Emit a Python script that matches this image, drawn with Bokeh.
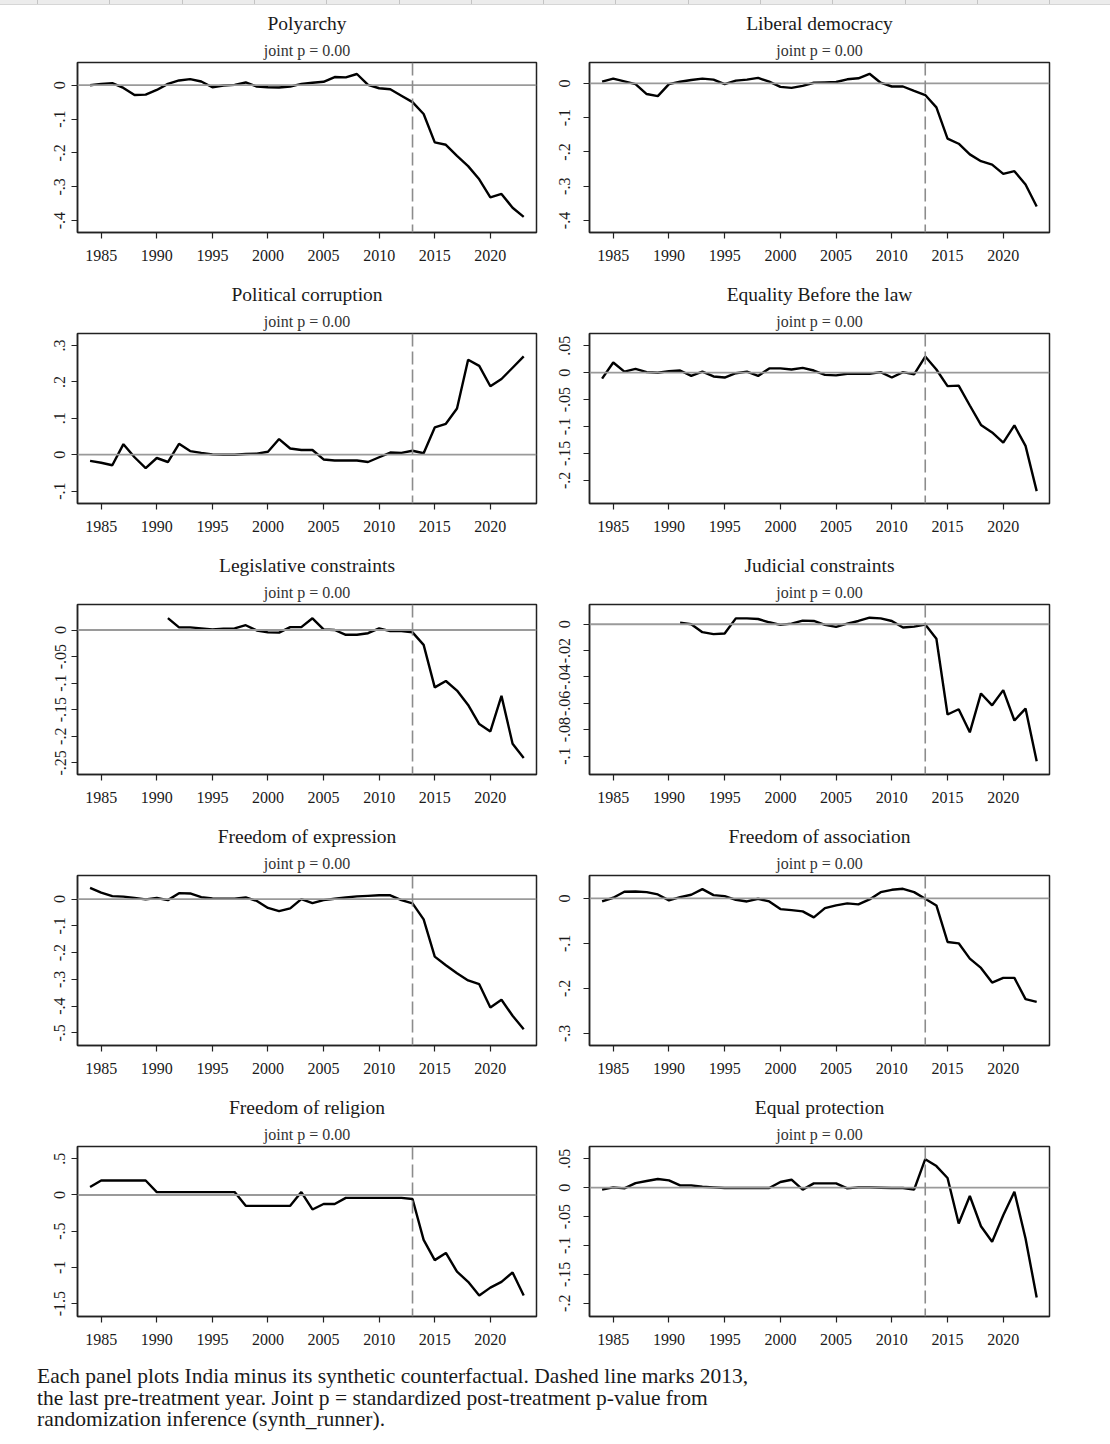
from bokeh.plotting import figure
from bokeh.models import Range1d, FixedTicker, Span, Title, Div
from bokeh.layouts import column, row
from bokeh.embed import file_html
from bokeh.resources import INLINE

FONT = "Liberation Serif"

YEARS = [1984, 1985, 1986, 1987, 1988, 1989, 1990, 1991, 1992, 1993,
         1994, 1995, 1996, 1997, 1998, 1999, 2000, 2001, 2002, 2003,
         2004, 2005, 2006, 2007, 2008, 2009, 2010, 2011, 2012, 2013,
         2014, 2015, 2016, 2017, 2018, 2019, 2020, 2021, 2022, 2023]
YEARS_1991 = [1991, 1992, 1993, 1994, 1995, 1996, 1997, 1998, 1999, 2000,
              2001, 2002, 2003, 2004, 2005, 2006, 2007, 2008, 2009, 2010,
              2011, 2012, 2013, 2014, 2015, 2016, 2017, 2018, 2019, 2020,
              2021, 2022, 2023]
X_TICKS = [1985, 1990, 1995, 2000, 2005, 2010, 2015, 2020]
TREATMENT_YEAR = 2013

TITLES = ["Polyarchy", "Liberal democracy", "Political corruption",
          "Equality Before the law", "Legislative constraints", "Judicial constraints",
          "Freedom of expression", "Freedom of association", "Freedom of religion",
          "Equal protection"]
SUBTITLE = "joint p = 0.00"

POLYARCHY = [0.000, 0.004, 0.006, -0.008, -0.029, -0.028, -0.014, 0.004, 0.014, 0.018,
             0.011, -0.006, -0.001, 0.001, 0.008, -0.004, -0.006, -0.007, -0.004, 0.004,
             0.007, 0.010, 0.024, 0.023, 0.033, 0.001, -0.009, -0.012, -0.031, -0.050,
             -0.085, -0.169, -0.176, -0.209, -0.239, -0.278, -0.331, -0.321, -0.362, -0.389]
LIBERAL = [0.005, 0.014, 0.006, -0.002, -0.031, -0.037, -0.002, 0.005, 0.010, 0.014,
           0.011, -0.002, 0.008, 0.011, 0.016, 0.005, -0.010, -0.013, -0.007, 0.002,
           0.003, 0.004, 0.012, 0.015, 0.028, 0.002, -0.009, -0.009, -0.022, -0.034,
           -0.070, -0.161, -0.176, -0.207, -0.227, -0.237, -0.264, -0.256, -0.295, -0.359]
CORRUPTION = [-0.017, -0.022, -0.029, 0.029, -0.007, -0.037, -0.009, -0.020, 0.030, 0.010,
              0.005, 0.001, 0.000, 0.000, 0.002, 0.003, 0.008, 0.043, 0.017, 0.013,
              0.013, -0.013, -0.016, -0.016, -0.016, -0.020, -0.007, 0.006, 0.005, 0.011,
              0.004, 0.075, 0.085, 0.127, 0.261, 0.244, 0.188, 0.208, 0.239, 0.270]
EQUALITY = [-0.011, 0.019, 0.002, 0.007, 0.001, 0.000, 0.003, 0.004, -0.006, 0.002,
            -0.007, -0.009, -0.001, 0.002, -0.006, 0.008, 0.008, 0.006, 0.009, 0.004,
            -0.004, -0.005, -0.002, -0.002, -0.002, 0.001, -0.009, 0.001, -0.003, 0.030,
            0.006, -0.025, -0.024, -0.061, -0.097, -0.111, -0.130, -0.098, -0.136, -0.220]
LEGISLATIVE = [0.0225, 0.005, 0.005, 0.003, 0.001, 0.0025, 0.003, 0.009, -0.001, -0.0045,
               -0.005, 0.0055, 0.0055, 0.022, 0.001, 0.000, -0.009, -0.009, -0.006, 0.003,
               -0.002, -0.002, -0.0045, -0.028, -0.108, -0.096, -0.114, -0.141, -0.177, -0.191,
               -0.124, -0.214, -0.241]
JUDICIAL = [0.00125, 0.000, -0.006, -0.0075, -0.007, 0.0045, 0.0045, 0.004, 0.0015, -0.0005,
            0.0005, 0.00275, 0.0025, -0.0005, -0.002, 0.0005, 0.0025, 0.005, 0.0045, 0.0025,
            -0.0025, -0.00175, -0.00025, -0.011, -0.0685, -0.0645, -0.082, -0.0525, -0.0615, -0.050,
            -0.073, -0.064, -0.104]
EXPRESSION = [0.042, 0.024, 0.011, 0.009, 0.004, -0.001, 0.004, -0.004, 0.022, 0.021,
              0.007, 0.002, 0.001, 0.001, 0.006, -0.007, -0.033, -0.045, -0.035, 0.000,
              -0.015, -0.004, 0.001, 0.006, 0.010, 0.012, 0.014, 0.014, -0.004, -0.016,
              -0.076, -0.215, -0.247, -0.277, -0.304, -0.318, -0.405, -0.376, -0.436, -0.486]
ASSOCIATION = [-0.0067, 0.0015, 0.0148, 0.0155, 0.014, 0.0089, -0.0044, 0.003, 0.0081, 0.0207,
               0.0074, 0.0052, -0.003, -0.0067, -0.0007, -0.0067, -0.0237, -0.0259, -0.0288, -0.0421,
               -0.0214, -0.0155, -0.0111, -0.0133, -0.0022, 0.014, 0.0192, 0.0214, 0.014, -0.0007,
               -0.0155, -0.0968, -0.0998, -0.1338, -0.1545, -0.187, -0.1767, -0.1767, -0.224, -0.23]
RELIGION = [0.11, 0.20, 0.20, 0.20, 0.20, 0.20, 0.04, 0.04, 0.04, 0.04,
            0.04, 0.04, 0.04, 0.04, -0.15, -0.15, -0.15, -0.15, -0.15, 0.04,
            -0.20, -0.125, -0.125, -0.04, -0.04, -0.04, -0.04, -0.04, -0.04, -0.055,
            -0.62, -0.90, -0.80, -1.06, -1.20, -1.39, -1.28, -1.20, -1.07, -1.39]
PROTECTION = [-0.0034, 0.0006, -0.0011, 0.008, 0.0115, 0.015, 0.0126, 0.004, 0.004, 0.0017,
              0.0006, -0.0006, -0.0006, -0.0006, -0.0006, -0.0006, 0.0098, 0.0138, -0.0034, 0.0075,
              0.0075, 0.0075, -0.0011, 0.0006, 0.0006, 0.0, -0.0006, -0.0006, -0.0034, 0.0494,
              0.0374, 0.0167, -0.0621, -0.0144, -0.0667, -0.0937, -0.0477, -0.0069, -0.0879, -0.190]

YTICKS_POLY = [0, -0.1, -0.2, -0.3, -0.4]
YLABELS_POLY = ["0", "-.1", "-.2", "-.3", "-.4"]
YTICKS_CORR = [-0.1, 0, 0.1, 0.2, 0.3]
YLABELS_CORR = ["-.1", "0", ".1", ".2", ".3"]
YTICKS_EQ = [0.05, 0, -0.05, -0.1, -0.15, -0.2]
YLABELS_EQ = [".05", "0", "-.05", "-.1", "-.15", "-.2"]
YTICKS_LEG = [0, -0.05, -0.1, -0.15, -0.2, -0.25]
YLABELS_LEG = ["0", "-.05", "-.1", "-.15", "-.2", "-.25"]
YTICKS_JUD = [0, -0.02, -0.04, -0.06, -0.08, -0.1]
YLABELS_JUD = ["0", "-.02", "-.04", "-.06", "-.08", "-.1"]
YTICKS_EXP = [0, -0.1, -0.2, -0.3, -0.4, -0.5]
YLABELS_EXP = ["0", "-.1", "-.2", "-.3", "-.4", "-.5"]
YTICKS_ASSOC = [0, -0.1, -0.2, -0.3]
YLABELS_ASSOC = ["0", "-.1", "-.2", "-.3"]
YTICKS_REL = [0.5, 0, -0.5, -1, -1.5]
YLABELS_REL = [".5", "0", "-.5", "-1", "-1.5"]

CAPTION_LINES = [
    "Each panel plots India minus its synthetic counterfactual. Dashed line marks 2013,",
    "the last pre-treatment year. Joint p = standardized post-treatment p-value from",
    "randomization inference (synth_runner).",
]

X_RANGE = (1982.87, 2024.15)

PANELS = [
    (TITLES[0], YEARS, POLYARCHY, (-0.435, 0.067), YTICKS_POLY, YLABELS_POLY),
    (TITLES[1], YEARS, LIBERAL, (-0.435, 0.061), YTICKS_POLY, YLABELS_POLY),
    (TITLES[2], YEARS, CORRUPTION, (-0.134, 0.333), YTICKS_CORR, YLABELS_CORR),
    (TITLES[3], YEARS, EQUALITY, (-0.243, 0.0728), YTICKS_EQ, YLABELS_EQ),
    (TITLES[4], YEARS_1991, LEGISLATIVE, (-0.272, 0.048), YTICKS_LEG, YLABELS_LEG),
    (TITLES[5], YEARS_1991, JUDICIAL, (-0.114, 0.015), YTICKS_JUD, YLABELS_JUD),
    (TITLES[6], YEARS, EXPRESSION, (-0.547, 0.088), YTICKS_EXP, YLABELS_EXP),
    (TITLES[7], YEARS, ASSOCIATION, (-0.327, 0.051), YTICKS_ASSOC, YLABELS_ASSOC),
    (TITLES[8], YEARS, RELIGION, (-1.679, 0.67), YTICKS_REL, YLABELS_REL),
    (TITLES[9], YEARS, PROTECTION, (-0.223, 0.0713), YTICKS_EQ, YLABELS_EQ),
]

STRIP_H = 5


def make_panel(title, xs, ys, yr, yticks, ylabels, left_col, first_row):
    if left_col:
        w, bl, br, ystand = 555, 77, 19, 6
    else:
        w, bl, br, ystand = 514, 34, 20, 13
    top = 62 - STRIP_H if first_row else 54
    h = top + 170 + 47
    p = figure(width=w, height=h, x_range=Range1d(*X_RANGE), y_range=Range1d(*yr),
               output_backend="svg", toolbar_location=None, title=None,
               min_border_left=bl, min_border_right=br,
               min_border_top=top, min_border_bottom=47)
    p.background_fill_color = "white"
    p.border_fill_color = "white"
    p.outline_line_color = "#222222"
    p.outline_line_width = 1.5
    p.xgrid.visible = False
    p.ygrid.visible = False

    sub = Title(text=SUBTITLE, align="center", text_font=FONT, text_font_size="16px",
                text_font_style="normal", text_color="#333333", standoff=7)
    p.add_layout(sub, "above")
    ttl = Title(text=title, align="center", text_font=FONT, text_font_size="19.5px",
                text_font_style="normal", text_color="#1a1a1a", standoff=5)
    p.add_layout(ttl, "above")

    for ax in (p.xaxis[0], p.yaxis[0]):
        ax.axis_line_color = "#222222"
        ax.axis_line_width = 1.5
        ax.major_tick_line_color = "#222222"
        ax.major_tick_line_width = 1.2
        ax.major_tick_out = 6
        ax.major_tick_in = 0
        ax.minor_tick_line_color = None
        ax.major_label_text_font = FONT
        ax.major_label_text_font_size = "16px"
        ax.major_label_text_color = "#1a1a1a"

    p.xaxis.ticker = FixedTicker(ticks=X_TICKS)
    p.xaxis.major_label_standoff = 11
    p.yaxis.ticker = FixedTicker(ticks=yticks)
    p.yaxis.major_label_overrides = {t: l for t, l in zip(yticks, ylabels)}
    p.yaxis.major_label_orientation = "vertical"
    p.yaxis.major_label_standoff = ystand

    p.add_layout(Span(location=0, dimension="width", line_color="#9a9a9a", line_width=1.8))
    p.add_layout(Span(location=TREATMENT_YEAR, dimension="height", line_color="#8c8c8c",
                      line_width=1.6, line_dash="13 5"))
    p.line(xs, ys, line_color="black", line_width=2.4)
    return p


figs = [make_panel(*spec, left_col=(i % 2 == 0), first_row=(i < 2)) for i, spec in enumerate(PANELS)]
rows = [row(figs[i], figs[i + 1]) for i in range(0, len(figs), 2)]

strip = Div(
    text="",
    width=1110, height=STRIP_H, margin=0,
    styles={"background-color": "#ececec",
            "box-sizing": "border-box",
            "border-bottom": "1px solid #d6d6d6",
            "background-image": "repeating-linear-gradient(to right, transparent 0px, transparent 37px, "
                                "#c4c4c4 37px, #c4c4c4 38px, transparent 38px, transparent 72.3px)"})

caption = Div(
    text="<div style=\"font-family:'Liberation Serif',serif;font-size:21.5px;line-height:21.5px;"
         "color:#1a1a1a;padding-left:37px;padding-top:3px;white-space:nowrap;\">"
         + "<br>".join(CAPTION_LINES) + "</div>",
    width=1000, height=76, margin=0)

layout = column(strip, *rows, caption)
open("out.html", "w").write(file_html(layout, INLINE))
